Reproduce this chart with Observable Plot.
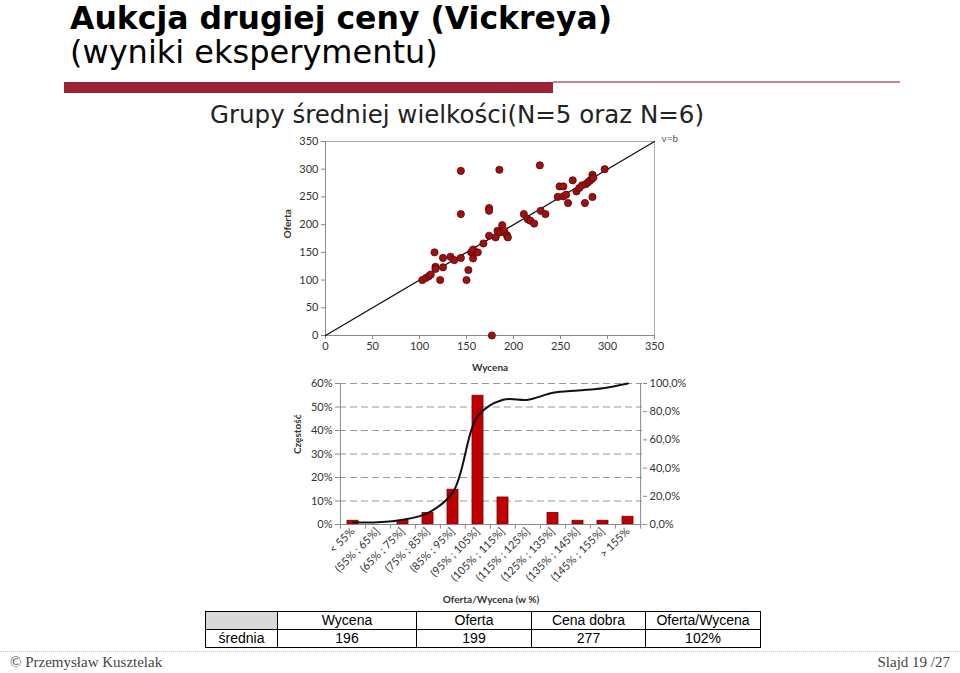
<!DOCTYPE html>
<html><head><meta charset="utf-8">
<script src="https://cdn.jsdelivr.net/npm/d3@7"></script>
<script src="https://cdn.jsdelivr.net/npm/@observablehq/plot@0.6"></script>
<style>
body{margin:0;background:#fff;}
#slide{position:relative;width:960px;height:673px;overflow:hidden;background:#fff;font-family:"DejaVu Sans",sans-serif;}
.abs{position:absolute;white-space:nowrap;}
#t1{left:70px;top:2px;font-size:31.5px;line-height:32px;font-weight:bold;color:#000;}
#t2{left:70px;top:36px;font-size:32px;line-height:32px;color:#000;}
#bar{left:64px;top:82px;width:489px;height:11px;background:#9b2335;}
#rline{left:553px;top:81px;width:347px;height:2px;background:#c48a90;}
#sub{left:210px;top:102px;font-size:24.5px;line-height:26px;color:#222;}
#scatter{left:280px;top:130px;background:#fff;}
#hist{left:280px;top:372px;}
#tbl{left:205px;top:611px;border-collapse:collapse;font-family:"Liberation Sans",Arial,sans-serif;font-size:14px;color:#000;}
#tbl td{border:1px solid #000;text-align:center;padding:0;height:17px;line-height:17px;}
#foot{left:0;top:651px;width:960px;border-top:1px dotted #ccc;}
#fl{left:10px;top:654px;font-family:"Liberation Serif",serif;font-size:15px;color:#444;}
#fr{right:10px;top:654px;font-family:"Liberation Serif",serif;font-size:15px;color:#444;}
</style></head><body>
<div id="slide">
  <div class="abs" id="t1">Aukcja drugiej ceny (Vickreya)</div>
  <div class="abs" id="t2">(wyniki eksperymentu)</div>
  <div class="abs" id="bar"></div>
  <div class="abs" id="rline"></div>
  <div class="abs" id="sub">Grupy średniej wielkości(N=5 oraz N=6)</div>
  <div class="abs" id="scatter"></div>
  <div class="abs" id="hist"></div>
  <table class="abs" id="tbl"></table>
  <div class="abs" id="foot"></div>
  <div class="abs" id="fl">© Przemysław Kusztelak</div>
  <div class="abs" id="fr">Slajd 19 /27</div>
</div>
<script>
// ---- scatter data ----
const wycena = [103,107,110,112,116,117,117,122,125,125,133,137,144,144,144,150,152,155,156,157,157,162,168,174,174,174,177,181,183,185,186,188,190,193,194,211,215,218,222,228,229,234,247,249,253,253,256,258,263,267,270,273,276,277,279,281,283,284,284,285,297];
const oferta = [100,104,107,110,150,124,120,100,140,123,142,136,297,219,140,100,118,150,150,155,139,150,166,230,225,180,0,177,189,299,186,199,189,181,177,219,210,207,202,307,225,219,250,269,269,251,254,239,280,260,266,271,239,273,276,279,282,290,250,285,300];
const scatterTicks = [0,50,100,150,200,250,300,350];
const diagonal = [0,350];

// ---- histogram data ----
const bins = ["< 55%","(55% ; 65%]","(65% ; 75%]","(75% ; 85%]","(85% ; 95%]","(95% ; 105%]","(105% ; 115%]","(115% ; 125%]","(125% ; 135%]","(135% ; 145%]","(145% ; 155%]","> 155%"];
const freq = [1.6,0,1.6,4.9,14.8,54.8,11.5,0,4.9,1.6,1.6,3.3];
const cumul = [1.6,1.6,3.3,8.2,23.0,77.0,88.5,88.5,93.4,95.1,96.7,100];
const leftTicks = [0,10,20,30,40,50,60];
const rightTicks = [0,20,40,60,80,100];

// ---- table data ----
const tableHeaders = ["Wycena","Oferta","Cena dobra","Oferta/Wycena"];
const tableRowLabel = "średnia";
const tableValues = ["196","199","277","102%"];

const axisFont = {fontFamily:"Lato, 'Open Sans', sans-serif", fontSize:"11px", color:"#333", background:"transparent", overflow:"visible"};

// Scatter
const pts = wycena.map((w,i)=>({w, o: oferta[i]}));
const sc = Plot.plot({
  width:400, height:244, marginLeft:45, marginRight:26, marginTop:11, marginBottom:39,
  style: axisFont,
  x:{domain:[0,350]}, y:{domain:[0,350]},
  marks:[
    Plot.frame({stroke:"#aaa"}),
    Plot.ruleX([0],{stroke:"#888"}),
    Plot.ruleY([0],{stroke:"#888"}),
    Plot.axisX({ticks:scatterTicks, tickSize:4, tickPadding:3, label:null, stroke:"#888"}),
    Plot.axisY({ticks:scatterTicks, tickSize:4, tickPadding:3, label:null, stroke:"#888"}),
    Plot.line(diagonal.map(d=>[d,d]), {stroke:"#111", strokeWidth:1.3}),
    Plot.dot(pts,{x:"w", y:"o", r:3.6, fill:"#9e1111", stroke:"#5a0505", strokeWidth:0.8}),
    Plot.text(["Wycena"],{frameAnchor:"bottom", dy:32, lineAnchor:"middle", fontWeight:"bold", fontSize:10, fill:"#333"}),
    Plot.text(["Oferta"],{frameAnchor:"left", dx:-38, rotate:-90, lineAnchor:"middle", fontWeight:"bold", fontSize:10, fill:"#333"}),
    Plot.text(["v=b"],{frameAnchor:"top-right", dx:7, dy:-3, textAnchor:"start", lineAnchor:"middle", fontSize:10, fill:"#555"})
  ]
});
document.getElementById("scatter").appendChild(sc);

// Histogram
const W2=420, H2=236, ml2=59, mr2=58, mt2=11, mb2=84;
const step = (W2-ml2-mr2)/bins.length;
const hdata = bins.map((b,i)=>({bin:b, f:freq[i], c:cumul[i]}));
const hs = Plot.plot({
  width:W2, height:H2, marginLeft:ml2, marginRight:mr2, marginTop:mt2, marginBottom:mb2,
  style: axisFont,
  x:{domain:bins, paddingInner:0.55, paddingOuter:0.275},
  y:{domain:[0,60]},
  marks:[
    Plot.ruleY(leftTicks.slice(1),{stroke:"#999", strokeDasharray:"7,4"}),
    Plot.barY(hdata,{x:"bin", y:"f", fill:"#c00000", stroke:"#700000", strokeWidth:0.8}),
    Plot.lineY(hdata,{x:"bin", y:d=>d.c*0.6, curve:"catmull-rom", stroke:"#111", strokeWidth:2}),
    Plot.ruleY([0],{stroke:"#888"}),
    Plot.ruleX([bins[0]],{dx:-step/2, stroke:"#888"}),
    Plot.ruleX([bins[bins.length-1]],{dx:step/2, stroke:"#888"}),
    Plot.ruleX(bins,{dx:-step/2, y1:0, y2:-2, stroke:"#888"}),
    Plot.ruleX([bins[bins.length-1]],{dx:step/2, y1:0, y2:-2, stroke:"#888"}),
    Plot.axisX({tickRotate:-45, tickSize:0, tickPadding:5, label:null, fontSize:11}),
    Plot.axisY({anchor:"left", ticks:leftTicks, tickFormat:d=>d+"%", tickSize:4, tickPadding:3, label:null, stroke:"#888"}),
    Plot.axisY({anchor:"right", ticks:rightTicks.map(d=>d*0.6), tickFormat:d=>(d/0.6).toFixed(1).replace(".",",")+"%", tickSize:4, tickPadding:3, label:null, stroke:"#888"}),
    Plot.text(["Oferta/Wycena (w %)"],{frameAnchor:"bottom", dy:75, lineAnchor:"middle", fontWeight:"bold", fontSize:10, fill:"#333"}),
    Plot.text(["Częstość"],{frameAnchor:"left", dx:-42, rotate:-90, lineAnchor:"middle", fontWeight:"bold", fontSize:10, fill:"#333"})
  ]
});
document.getElementById("hist").appendChild(hs);

// Table
const tbl = document.getElementById("tbl");
const widths = [71,138,114,113,114];
const r1 = tbl.insertRow();
const c0 = r1.insertCell(); c0.style.background="#d9d9d9"; c0.style.width=widths[0]+"px";
tableHeaders.forEach((h,i)=>{const c=r1.insertCell(); c.textContent=h; c.style.width=widths[i+1]+"px";});
const r2 = tbl.insertRow();
const l = r2.insertCell(); l.textContent=tableRowLabel;
tableValues.forEach(v=>{const c=r2.insertCell(); c.textContent=v;});
</script>
</body></html>
